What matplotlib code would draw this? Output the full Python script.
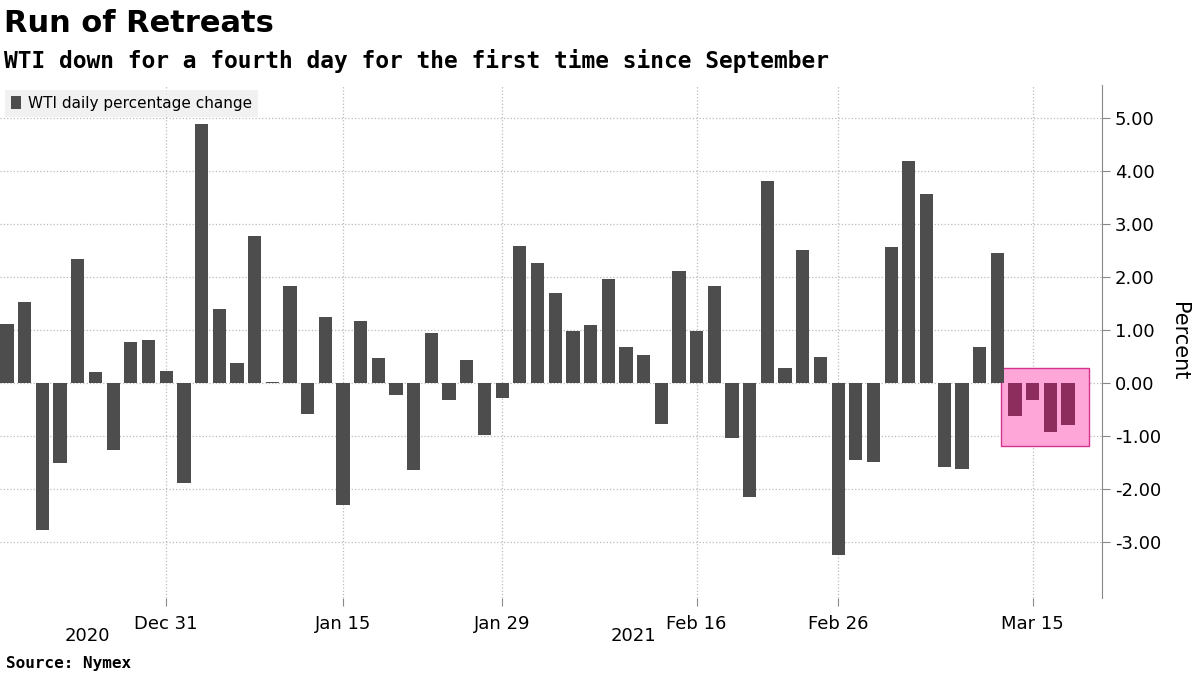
import matplotlib
matplotlib.use("Agg")
import matplotlib.pyplot as plt
from matplotlib.patches import Rectangle
import numpy as np

# WTI daily percentage change, trading days from mid-Dec 2020 to mid-Mar 2021
changes = [1.12, 1.53, -2.78, -1.52, 2.34, 0.21, -1.27, 0.77, 0.81, 0.23,
           -1.88, 4.89, 1.40, 0.38, 2.77, 0.02, 1.83, -0.58, 1.25, -2.30,
           1.17, 0.47, -0.23, -1.64, 0.94, -0.32, 0.43, -0.98, -0.28, 2.58,
           2.26, 1.70, 0.98, 1.10, 1.96, 0.67, 0.53, -0.77, 2.11, 0.97,
           1.82, -1.04, -2.15, 3.81, 0.28, 2.50, 0.49, -3.24, -1.45, -1.49,
           2.56, 4.18, 3.56, -1.58, -1.62, 0.68, 2.45, -0.62, -0.32, -0.92,
           -0.79]
tick_idx = [9, 19, 28, 39, 47, 58]
tick_labels = ["Dec 31", "Jan 15", "Jan 29", "Feb 16", "Feb 26", "Mar 15"]
yticks = [-3, -2, -1, 0, 1, 2, 3, 4, 5]
highlight_start = 57  # last four days

x = np.arange(len(changes))
colors = ["#4d4d4d" if i < highlight_start else "#8c2d5e" for i in x]

fig = plt.figure(figsize=(12, 6.75), dpi=100)
ax = fig.add_axes([0.0, 0.114, 0.918, 0.76])

ax.bar(x, changes, width=0.75, color=colors, zorder=3,
       label="WTI daily percentage change")
ax.add_patch(Rectangle((56.2, -1.19), 5.0, 1.47, facecolor="#ffa6d9",
                       edgecolor="#d6338f", linewidth=1, zorder=2))

ax.set_xlim(-0.4, 61.9)
ax.set_ylim(-4.06, 5.62)
ax.set_xticks(tick_idx)
ax.set_xticklabels(tick_labels, fontsize=13)
ax.set_yticks(yticks)
ax.set_yticklabels([f"{v:.2f}" for v in yticks], fontsize=13)
ax.yaxis.tick_right()
ax.yaxis.set_label_position("right")
ax.set_ylabel("Percent", fontsize=15, rotation=270, labelpad=20)
ax.tick_params(axis="x", length=6, color="#888888", pad=6)
ax.tick_params(axis="y", length=6, color="#888888")
ax.grid(True, color="#bbbbbb", linestyle=":", linewidth=0.9, zorder=0)
for side in ["top", "left", "bottom"]:
    ax.spines[side].set_visible(False)
ax.spines["right"].set_color("#888888")

leg = ax.legend(loc="upper left", fontsize=11, frameon=True, fancybox=False,
                handlelength=0.7, handleheight=0.9, handletextpad=0.4,
                borderaxespad=0.3)
leg.get_frame().set_facecolor("#eeeeee")
leg.get_frame().set_edgecolor("none")

fig.text(0.073, 0.058, "2020", fontsize=13, ha="center", va="center")
fig.text(0.528, 0.058, "2021", fontsize=13, ha="center", va="center")
fig.text(0.003, 0.965, "Run of Retreats", fontsize=22, fontweight="bold", va="center")
fig.text(0.003, 0.91, "WTI down for a fourth day for the first time since September",
         fontsize=16.5, fontweight="bold", family="DejaVu Sans Mono", va="center")
fig.text(0.005, 0.017, "Source: Nymex", fontsize=11.5, fontweight="bold",
         family="DejaVu Sans Mono", va="center")

fig.savefig("out.png", dpi=100)
